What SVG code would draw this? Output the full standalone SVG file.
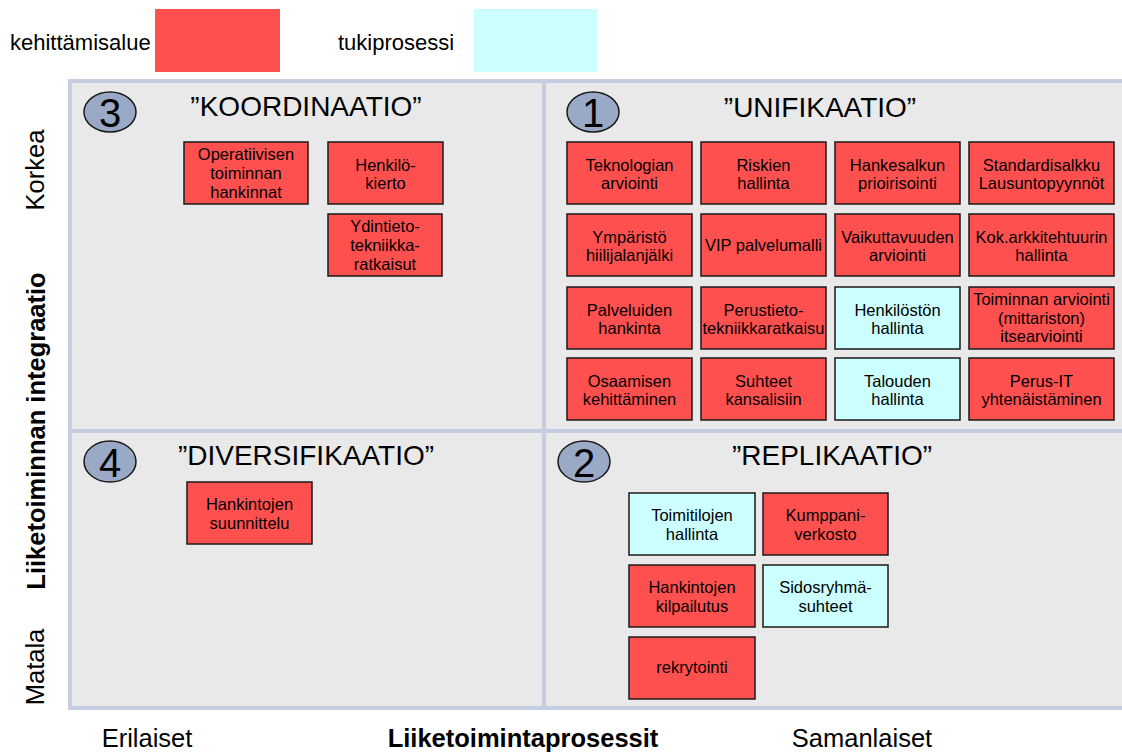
<svg xmlns="http://www.w3.org/2000/svg" width="1122" height="753" viewBox="0 0 1122 753">
  <style>
    text { font-family: "Liberation Sans", Arial, sans-serif; fill: #000; }
    .box { stroke: #1a1a1a; stroke-width: 1.5; }
    .dev { fill: #ff5050; }
    .sup { fill: #ccffff; }
    .bt { font-size: 16.5px; text-anchor: middle; }
    .title { font-size: 28px; text-anchor: middle; }
    .num { fill: #9aa9c6; stroke: #1a1a1a; stroke-width: 1.5; }
    .numt { font-size: 40px; text-anchor: middle; }
    .axis { font-size: 25.5px; }
    .bold { font-weight: bold; }
    .leg { font-size: 22px; }
    .frame { fill: none; stroke: #c5cee0; stroke-width: 4; }
  </style>

  <!-- legend -->
  <g id="legend">
    <text class="leg" x="10" y="50">kehittämisalue</text>
    <rect class="dev" x="155" y="9" width="125" height="63"/>
    <text class="leg" x="338" y="50">tukiprosessi</text>
    <rect class="sup" x="474" y="9" width="123" height="63"/>
  </g>

  <!-- quadrant grid -->
  <g id="grid">
    <rect x="70" y="81" width="1060" height="627" fill="#e9e9e9"/>
    <rect class="frame" x="70" y="81" width="1060" height="627"/>
    <line class="frame" x1="544" y1="81" x2="544" y2="708"/>
    <line class="frame" x1="70" y1="431" x2="1130" y2="431"/>
  </g>

  <!-- axis labels -->
  <g id="axes">
    <text class="axis" transform="translate(44,170) rotate(-90)" text-anchor="middle">Korkea</text>
    <text class="axis bold" transform="translate(45,431) rotate(-90)" text-anchor="middle">Liiketoiminnan integraatio</text>
    <text class="axis" transform="translate(44,667) rotate(-90)" text-anchor="middle">Matala</text>
    <text class="axis" x="147" y="747" text-anchor="middle">Erilaiset</text>
    <text class="axis bold" x="523" y="747" text-anchor="middle">Liiketoimintaprosessit</text>
    <text class="axis" x="862" y="747" text-anchor="middle">Samanlaiset</text>
  </g>

  <!-- quadrant 3 -->
  <g id="q3">
    <ellipse class="num" cx="110" cy="112" rx="26" ry="20"/>
    <text class="numt" x="110" y="127">3</text>
    <text class="title" x="306" y="116">”KOORDINAATIO”</text>
  </g>
  <g id="n-operatiivisen">
    <rect class="box dev" x="184" y="142" width="124" height="62"/>
    <text class="bt" x="246" y="160">Operatiivisen</text>
    <text class="bt" x="246" y="179">toiminnan</text>
    <text class="bt" x="246" y="198">hankinnat</text>
  </g>
  <g id="n-henkilokierto">
    <rect class="box dev" x="328" y="142" width="115" height="62"/>
    <text class="bt" x="385.5" y="171">Henkilö-</text>
    <text class="bt" x="385.5" y="189">kierto</text>
  </g>
  <g id="n-ydintieto">
    <rect class="box dev" x="328" y="214" width="114" height="62"/>
    <text class="bt" x="385" y="232">Ydintieto-</text>
    <text class="bt" x="385" y="251">tekniikka-</text>
    <text class="bt" x="385" y="270">ratkaisut</text>
  </g>

  <!-- quadrant 1 -->
  <g id="q1">
    <ellipse class="num" cx="593" cy="112" rx="26" ry="20"/>
    <text class="numt" x="593" y="127">1</text>
    <text class="title" x="820" y="117">”UNIFIKAATIO”</text>
  </g>
  <g id="n-teknologian">
    <rect class="box dev" x="567" y="142" width="125" height="62"/>
    <text class="bt" x="629.5" y="171">Teknologian</text>
    <text class="bt" x="629.5" y="189">arviointi</text>
  </g>
  <g id="n-riskien">
    <rect class="box dev" x="701" y="142" width="125" height="62"/>
    <text class="bt" x="763.5" y="171">Riskien</text>
    <text class="bt" x="763.5" y="189">hallinta</text>
  </g>
  <g id="n-hankesalkun">
    <rect class="box dev" x="835" y="142" width="125" height="62"/>
    <text class="bt" x="897.5" y="171">Hankesalkun</text>
    <text class="bt" x="897.5" y="189">prioirisointi</text>
  </g>
  <g id="n-standardisalkku">
    <rect class="box dev" x="969" y="142" width="145" height="62"/>
    <text class="bt" x="1041.5" y="171">Standardisalkku</text>
    <text class="bt" x="1041.5" y="189">Lausuntopyynnöt</text>
  </g>

  <g id="n-ymparisto">
    <rect class="box dev" x="567" y="214" width="125" height="62"/>
    <text class="bt" x="629.5" y="243">Ympäristö</text>
    <text class="bt" x="629.5" y="261">hiilijalanjälki</text>
  </g>
  <g id="n-vip">
    <rect class="box dev" x="701" y="214" width="125" height="62"/>
    <text class="bt" x="763.5" y="251">VIP palvelumalli</text>
  </g>
  <g id="n-vaikuttavuuden">
    <rect class="box dev" x="835" y="214" width="125" height="62"/>
    <text class="bt" x="897.5" y="243">Vaikuttavuuden</text>
    <text class="bt" x="897.5" y="261">arviointi</text>
  </g>
  <g id="n-kokarkkitehtuuri">
    <rect class="box dev" x="969" y="214" width="145" height="62"/>
    <text class="bt" x="1041.5" y="243">Kok.arkkitehtuurin</text>
    <text class="bt" x="1041.5" y="261">hallinta</text>
  </g>

  <g id="n-palveluiden">
    <rect class="box dev" x="567" y="287" width="125" height="62"/>
    <text class="bt" x="629.5" y="316">Palveluiden</text>
    <text class="bt" x="629.5" y="334">hankinta</text>
  </g>
  <g id="n-perustieto">
    <rect class="box dev" x="701" y="287" width="125" height="62"/>
    <text class="bt" x="763.5" y="316">Perustieto-</text>
    <text class="bt" x="763.5" y="334">tekniikkaratkaisu</text>
  </g>
  <g id="n-henkilosto">
    <rect class="box sup" x="835" y="287" width="125" height="62"/>
    <text class="bt" x="897.5" y="316">Henkilöstön</text>
    <text class="bt" x="897.5" y="334">hallinta</text>
  </g>
  <g id="n-toiminnan">
    <rect class="box dev" x="969" y="287" width="145" height="62"/>
    <text class="bt" x="1041.5" y="305">Toiminnan arviointi</text>
    <text class="bt" x="1041.5" y="323.5">(mittariston)</text>
    <text class="bt" x="1041.5" y="342">itsearviointi</text>
  </g>

  <g id="n-osaamisen">
    <rect class="box dev" x="567" y="358" width="125" height="62"/>
    <text class="bt" x="629.5" y="387">Osaamisen</text>
    <text class="bt" x="629.5" y="405">kehittäminen</text>
  </g>
  <g id="n-suhteet">
    <rect class="box dev" x="701" y="358" width="125" height="62"/>
    <text class="bt" x="763.5" y="387">Suhteet</text>
    <text class="bt" x="763.5" y="405">kansalisiin</text>
  </g>
  <g id="n-talouden">
    <rect class="box sup" x="835" y="358" width="125" height="62"/>
    <text class="bt" x="897.5" y="387">Talouden</text>
    <text class="bt" x="897.5" y="405">hallinta</text>
  </g>
  <g id="n-perusit">
    <rect class="box dev" x="969" y="358" width="145" height="62"/>
    <text class="bt" x="1041.5" y="387">Perus-IT</text>
    <text class="bt" x="1041.5" y="405">yhtenäistäminen</text>
  </g>

  <!-- quadrant 4 -->
  <g id="q4">
    <ellipse class="num" cx="110" cy="461.5" rx="26" ry="20.5"/>
    <text class="numt" x="110" y="477">4</text>
    <text class="title" x="306" y="465">”DIVERSIFIKAATIO”</text>
  </g>
  <g id="n-hankintojen-suunnittelu">
    <rect class="box dev" x="187" y="482" width="125" height="62"/>
    <text class="bt" x="249.5" y="510">Hankintojen</text>
    <text class="bt" x="249.5" y="529">suunnittelu</text>
  </g>

  <!-- quadrant 2 -->
  <g id="q2">
    <ellipse class="num" cx="584" cy="461.5" rx="26" ry="20.5"/>
    <text class="numt" x="584" y="477">2</text>
    <text class="title" x="832" y="465">”REPLIKAATIO”</text>
  </g>
  <g id="n-toimitilojen">
    <rect class="box sup" x="629" y="493" width="126" height="62"/>
    <text class="bt" x="692" y="521">Toimitilojen</text>
    <text class="bt" x="692" y="540">hallinta</text>
  </g>
  <g id="n-kumppaniverkosto">
    <rect class="box dev" x="763" y="493" width="125" height="62"/>
    <text class="bt" x="825.5" y="521">Kumppani-</text>
    <text class="bt" x="825.5" y="540">verkosto</text>
  </g>
  <g id="n-kilpailutus">
    <rect class="box dev" x="629" y="565" width="126" height="62"/>
    <text class="bt" x="692" y="593">Hankintojen</text>
    <text class="bt" x="692" y="612">kilpailutus</text>
  </g>
  <g id="n-sidosryhma">
    <rect class="box sup" x="763" y="565" width="125" height="62"/>
    <text class="bt" x="825.5" y="593">Sidosryhmä-</text>
    <text class="bt" x="825.5" y="612">suhteet</text>
  </g>
  <g id="n-rekrytointi">
    <rect class="box dev" x="629" y="637" width="126" height="62"/>
    <text class="bt" x="692" y="673">rekrytointi</text>
  </g>
</svg>
